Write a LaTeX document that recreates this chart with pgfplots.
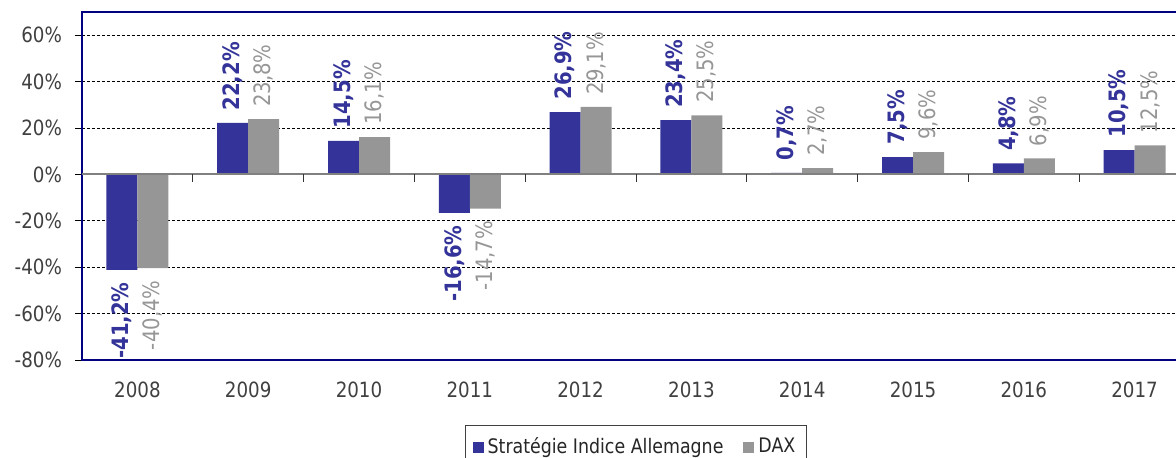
\documentclass[border=0pt]{standalone}
\usepackage{pgfplots}
\pgfplotsset{compat=1.18}
\usepackage{fontspec}
\setmainfont{DejaVu Sans}[FakeStretch=0.87]
\definecolor{barblue}{RGB}{51,51,153}
\definecolor{bargray}{RGB}{150,150,150}
\definecolor{navyc}{RGB}{0,0,128}
\definecolor{tickgray}{RGB}{64,64,64}
\definecolor{zerogray}{RGB}{128,128,128}
\begin{document}
\begin{tikzpicture}
\begin{axis}[
  at={(0,0)}, anchor=south west,
  width=554pt, height=174pt, scale only axis,
  ybar=0pt, bar width=15.5pt,
  xmin=-0.5, xmax=9.5, ymin=-80, ymax=70,
  xtick={0,1,2,3,4,5,6,7,8,9},
  xticklabels={2008,2009,2010,2011,2012,2013,2014,2015,2016,2017},
  ytick={-80,-60,-40,-20,0,20,40,60},
  yticklabels={-80\%,-60\%,-40\%,-20\%,0\%,20\%,40\%,60\%},
  ymajorgrids, grid style={dash pattern=on 1.5pt off 1pt, black, line width=0.5pt},
  axis line style={draw=navyc, line width=1pt},
  tick align=outside, major tick length=3.5pt,
  x tick style={draw=none},
  y tick style={black, line width=0.5pt},
  ticklabel style={text=tickgray, font=\fontsize{10.5}{12}\selectfont},
  xticklabel style={yshift=-4pt},
  yticklabel style={xshift=-3pt},
  legend style={at={(0.5,-0.187)}, anchor=north, legend columns=-1,
    draw=black!75, line width=0.5pt, font=\fontsize{10}{12}\selectfont, text=black!85,
    inner xsep=3.5pt, inner ysep=4pt,
    /tikz/every even column/.append style={column sep=8pt}},
  legend image code/.code={\fill[#1] (4pt,-2.75pt) rectangle (9.5pt,2.75pt);},
  nodes near coords={\pgfmathprintnumber[fixed,fixed zerofill,precision=1,use comma,assume math mode=true]{\pgfplotspointmeta}\%},
  visualization depends on={value \thisrow{v}\as\rawv},
  nodes near coords style={rotate=90, anchor=\ifdim\rawv pt<0pt east\else west\fi,
    inner xsep=6pt, font=\fontsize{11.3}{13}\selectfont},
]
\addplot[fill=barblue, draw=none, nodes near coords style={text=barblue, font=\fontsize{11.3}{13}\selectfont\bfseries}] table[x=x,y=v] {
x v
0 -41.2
1 22.2
2 14.5
3 -16.6
4 26.9
5 23.4
6 0.7
7 7.5
8 4.8
9 10.5
};
\addplot[fill=bargray, draw=none, nodes near coords style={text=bargray}] table[x=x,y=v] {
x v
0 -40.4
1 23.8
2 16.1
3 -14.7
4 29.1
5 25.5
6 2.7
7 9.6
8 6.9
9 12.5
};
\legend{Stratégie Indice Allemagne, DAX}
\draw[zerogray, line width=1pt] (axis cs:-0.5,0) -- (axis cs:9.5,0);
\pgfplotsinvokeforeach{0.5,1.5,2.5,3.5,4.5,5.5,6.5,7.5,8.5}{
  \draw[black!80, line width=0.5pt] (axis cs:#1,0) -- ++(0pt,-4pt);
}
\end{axis}
\pgfresetboundingbox
\path[use as bounding box] (-41pt,-48.5pt) rectangle (547pt,180pt);
\end{tikzpicture}
\end{document}
